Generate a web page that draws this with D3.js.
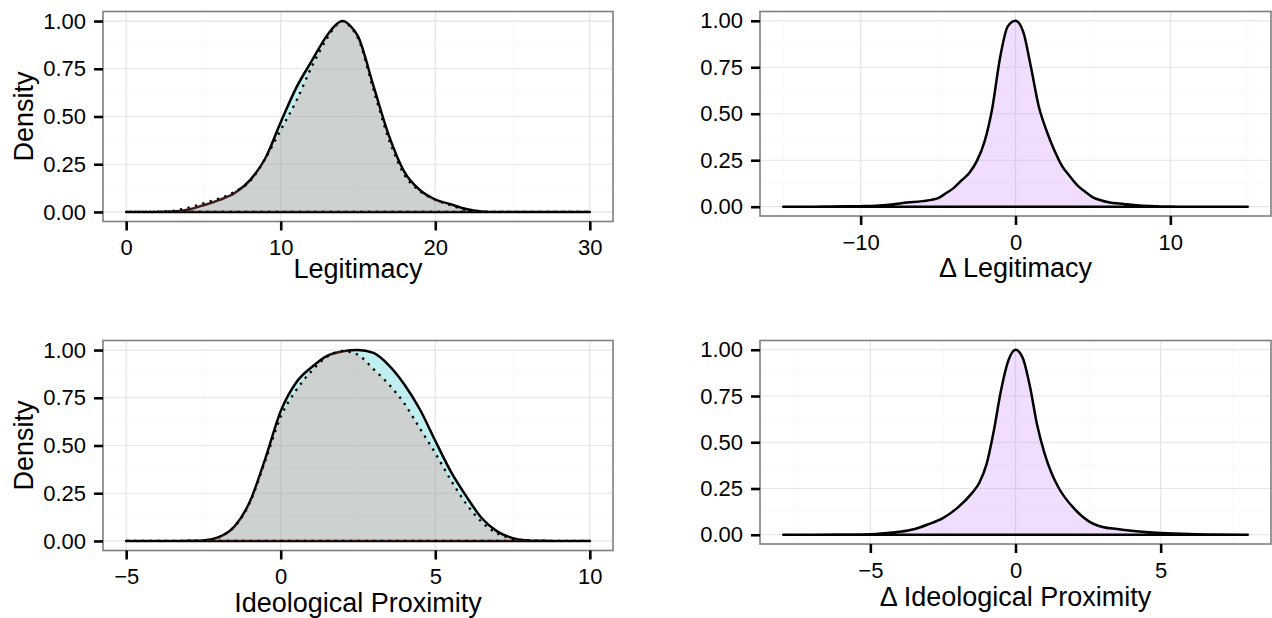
<!DOCTYPE html>
<html>
<head>
<meta charset="utf-8">
<script src="https://cdn.jsdelivr.net/npm/d3@7"></script>
<style>
  body { margin: 0; background: #fff; }
  text { font-family: "Liberation Sans", Arial, Helvetica, sans-serif; fill: #000; }
</style>
</head>
<body>
<script>
// scaled densities
var legitX = [0,1,2,3,4,5,6,7,8,9,10,11,12,13,13.5,14,14.5,15,16,17,18,19,20,21,22,23,24,25,26,27,28,29,30];
var legitA = [0,0,0,0.002,0.012,0.035,0.062,0.098,0.165,0.28,0.47,0.65,0.79,0.925,0.975,1.0,0.975,0.92,0.66,0.40,0.21,0.115,0.065,0.04,0.015,0.003,0,0,0,0,0,0,0];
var legitB = [0,0,0.001,0.006,0.022,0.045,0.07,0.105,0.16,0.28,0.43,0.58,0.76,0.91,0.97,1.0,0.97,0.91,0.64,0.38,0.195,0.11,0.065,0.035,0.01,0.002,0,0,0,0,0,0,0];

var ideoX = [-5,-4.5,-4,-3.5,-3,-2.5,-2,-1.5,-1,-0.5,0,0.5,1,1.5,2,2.5,3,3.5,4,4.5,5,5.5,6,6.5,7,7.5,8,8.5,9,9.5,10];
var ideoA = [0,0,0,0,0.001,0.003,0.02,0.075,0.205,0.43,0.68,0.83,0.91,0.97,0.993,1.0,0.985,0.92,0.82,0.69,0.525,0.365,0.235,0.12,0.05,0.015,0.003,0.001,0,0,0];
var ideoB = [0,0,0,0,0.001,0.003,0.02,0.075,0.2,0.42,0.65,0.79,0.89,0.965,0.995,0.975,0.9,0.82,0.72,0.59,0.46,0.32,0.195,0.1,0.04,0.012,0.003,0.001,0,0,0];

var dLegitX = [-15,-14,-13,-12,-11,-10,-9,-8,-7,-6,-5,-4.5,-4,-3.5,-3,-2.5,-2,-1.5,-1,-0.5,0,0.5,1,1.5,2,2.5,3,3.5,4,4.5,5,5.5,6,7,8,9,10,11,12,13,14,15];
var dLegitY = [0,0,0,0.001,0.002,0.003,0.005,0.012,0.022,0.03,0.046,0.072,0.1,0.14,0.18,0.245,0.35,0.53,0.8,0.97,1.0,0.94,0.75,0.54,0.41,0.305,0.22,0.165,0.115,0.08,0.05,0.035,0.024,0.015,0.007,0.003,0.001,0,0,0,0,0];

var dIdeoX = [-8,-7,-6,-5,-4.5,-4,-3.5,-3,-2.5,-2,-1.5,-1.25,-1,-0.75,-0.5,-0.25,0,0.25,0.5,0.75,1,1.25,1.5,2,2.5,3,3.5,4,4.5,5,6,7,8];
var dIdeoY = [0,0,0.001,0.003,0.008,0.016,0.03,0.057,0.09,0.145,0.225,0.28,0.38,0.56,0.78,0.94,1.0,0.955,0.8,0.59,0.44,0.33,0.25,0.145,0.075,0.042,0.031,0.022,0.015,0.01,0.004,0.001,0];

// ticks
var densityTicks = [0, 0.25, 0.5, 0.75, 1];
var densityMinor = [0.125, 0.375, 0.625, 0.875];
var legitTicks = [0, 10, 20, 30], legitMinor = [5, 15, 25];
var ideoTicks = [-5, 0, 5, 10], ideoMinor = [-2.5, 2.5, 7.5];
var dLegitTicks = [-10, 0, 10], dLegitMinor = [-15, -5, 5, 15];
var dIdeoTicks = [-5, 0, 5], dIdeoMinor = [-7.5, -2.5, 2.5, 7.5];

var svg = d3.select('body').append('svg')
  .attr('width', 1272)
  .attr('height', 618);

function panel(p) {
  var x = d3.scaleLinear().domain(p.xdom).range([p.left, p.right]);
  var y = d3.scaleLinear().domain([-0.05, 1.05]).range([p.bottom, p.top]);
  var g = svg.append('g');

  g.append('rect')
    .attr('x', p.left).attr('y', p.top)
    .attr('width', p.right - p.left).attr('height', p.bottom - p.top)
    .style('fill', '#fff');

  // grid
  p.xminor.forEach(function(v) {
    g.append('line').attr('x1', x(v)).attr('x2', x(v)).attr('y1', p.top).attr('y2', p.bottom)
      .style('stroke', '#fafafa').style('stroke-width', 1.2);
  });
  densityMinor.forEach(function(v) {
    g.append('line').attr('x1', p.left).attr('x2', p.right).attr('y1', y(v)).attr('y2', y(v))
      .style('stroke', '#fafafa').style('stroke-width', 1.2);
  });
  p.xticks.forEach(function(v) {
    g.append('line').attr('x1', x(v)).attr('x2', x(v)).attr('y1', p.top).attr('y2', p.bottom)
      .style('stroke', '#e5e5e5').style('stroke-width', 1.2);
  });
  densityTicks.forEach(function(v) {
    g.append('line').attr('x1', p.left).attr('x2', p.right).attr('y1', y(v)).attr('y2', y(v))
      .style('stroke', '#e5e5e5').style('stroke-width', 1.2);
  });

  var area = d3.area()
    .x(function(d) { return x(d[0]); })
    .y0(y(0))
    .y1(function(d) { return y(d[1]); })
    .curve(d3.curveMonotoneX);

  p.series.forEach(function(s) {
    var pts = s.xs.map(function(v, i) { return [v, s.ys[i]]; });
    var path = g.append('path')
      .datum(pts)
      .attr('d', function(d) { return area(d) ; })
      .style('fill', s.fill)
      .style('fill-opacity', 0.25)
      .style('stroke', '#000')
      .style('stroke-width', s.dotted ? 2.3 : 2.5)
      .style('stroke-linejoin', 'round');
    if (s.dotted) path.style('stroke-dasharray', '2.3,5.4');
  });

  g.append('rect')
    .attr('x', p.left).attr('y', p.top)
    .attr('width', p.right - p.left).attr('height', p.bottom - p.top)
    .style('fill', 'none').style('stroke', '#7f7f7f').style('stroke-width', 1.6);

  var ya = g.append('g')
    .attr('transform', 'translate(' + p.left + ',0)')
    .call(d3.axisLeft(y).tickValues(densityTicks).tickFormat(d3.format('.2f')).tickSize(9).tickPadding(8));
  var xa = g.append('g')
    .attr('transform', 'translate(0,' + p.bottom + ')')
    .call(d3.axisBottom(x).tickValues(p.xticks).tickFormat(function(d) { return d < 0 ? '\u2212' + Math.abs(d) : d; }).tickSize(9).tickPadding(9));
  [ya, xa].forEach(function(a) {
    a.select('.domain').remove();
    a.selectAll('line').style('stroke', '#000').style('stroke-width', 2.6);
    a.selectAll('text').style('font-size', '22px').style('fill', '#000')
      .style('font-family', '"Liberation Sans", Arial, Helvetica, sans-serif');
  });

  g.append('text')
    .attr('x', (p.left + p.right) / 2)
    .attr('y', p.titleY)
    .style('text-anchor', 'middle')
    .style('font-size', '27px')
    .text(p.xlab);

  if (p.ylab) {
    g.append('text')
      .attr('transform', 'translate(33,' + (p.top + p.bottom) / 2 + ') rotate(-90)')
      .style('text-anchor', 'middle')
      .style('font-size', '27px')
      .text(p.ylab);
  }
}

panel({
  left: 103, right: 613, top: 11.5, bottom: 221.5,
  xdom: [-1.5, 31.5], xticks: legitTicks, xminor: legitMinor,
  xlab: 'Legitimacy', ylab: 'Density', titleY: 278,
  series: [
    { xs: legitX, ys: legitA, fill: '#00BFC4', dotted: false },
    { xs: legitX, ys: legitB, fill: '#F8766D', dotted: true }
  ]
});

panel({
  left: 760, right: 1271, top: 11.5, bottom: 216,
  xdom: [-16.5, 16.5], xticks: dLegitTicks, xminor: dLegitMinor,
  xlab: '\u0394 Legitimacy', titleY: 277,
  series: [
    { xs: dLegitX, ys: dLegitY, fill: '#C77CFF', dotted: false }
  ]
});

panel({
  left: 103, right: 613, top: 340.5, bottom: 550.5,
  xdom: [-5.75, 10.75], xticks: ideoTicks, xminor: ideoMinor,
  xlab: 'Ideological Proximity', ylab: 'Density', titleY: 612,
  series: [
    { xs: ideoX, ys: ideoA, fill: '#00BFC4', dotted: false },
    { xs: ideoX, ys: ideoB, fill: '#F8766D', dotted: true }
  ]
});

panel({
  left: 760, right: 1271, top: 340.5, bottom: 544,
  xdom: [-8.8, 8.8], xticks: dIdeoTicks, xminor: dIdeoMinor,
  xlab: '\u0394 Ideological Proximity', titleY: 606,
  series: [
    { xs: dIdeoX, ys: dIdeoY, fill: '#C77CFF', dotted: false }
  ]
});
</script>
</body>
</html>
